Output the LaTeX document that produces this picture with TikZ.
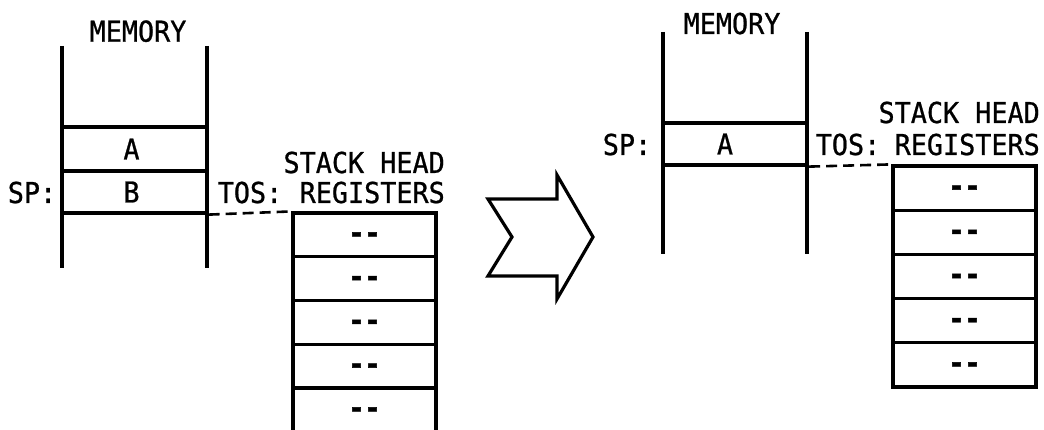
\documentclass[tikz,border=0pt]{standalone}
\usepackage{fontspec}
\newfontfamily\lgfont[FakeStretch=0.93,FakeBold=0.8]{DejaVu Sans Mono}
\newfontfamily\lgbold[FakeStretch=0.93,FakeBold=1.5]{DejaVu Sans Mono Bold}
\begin{document}
\begin{tikzpicture}[x=1pt,y=-1pt,
  txt/.style={font=\lgfont\fontsize{28.8}{30}\selectfont},
  lbl/.style={txt, inner sep=0pt, anchor=base},
  lble/.style={txt, inner sep=0pt, anchor=base east},
  memline/.style={line width=3.4pt},
  memcell/.style={txt, draw, line width=3.2pt, minimum width=145pt, inner sep=0pt},
  regcell/.style={font=\lgbold\fontsize{28.8}{30}\selectfont, draw, line width=3.2pt,
                  minimum width=143pt, inner sep=0pt,
                  text height=15.6pt, text depth=0pt},
  dashline/.style={line width=2.6pt, dash pattern=on 11pt off 6pt},
  bigarrow/.style={line width=3.2pt, line join=miter}]
\useasboundingbox (0,0) rectangle (1044,430);

% ---------- left: before ----------
\draw[memline] (62,46) -- (62,268);
\draw[memline] (207,46) -- (207,268);
\node[memcell, minimum height=44pt] (LA) at (134.5,149) {A\hspace*{6pt}};
\node[memcell, minimum height=42pt] (LB) at (134.5,192) {B\hspace*{6pt}};
\node[lbl] (Lmem) at (138,41.7) {MEMORY};
\node[lbl] (Lsp) at (32,203) {SP:};
\node[lbl] (Ltos) at (250,203) {TOS:};
\node[lble] (Lsh) at (445,173) {STACK HEAD};
\node[lble] (Lreg) at (445,203) {REGISTERS};
\foreach \i/\y in {1/234.9,2/278.6,3/322.4,4/366.1,5/409.9}
  \node[regcell, minimum height=43.75pt] (LR\i) at (364.5,\y) {-{}-};
\draw[dashline] (LB.south east) -- (LR1.north west);

% ---------- transition arrow ----------
\draw[bigarrow] (488,199) -- (557,199) -- (557,175) -- (593,237) -- (557,299)
  -- (557,276) -- (488,276) -- (512,237) -- cycle;

% ---------- right: after ----------
\draw[memline] (663,32) -- (663,254);
\draw[memline] (807,32) -- (807,254);
\node[memcell, minimum height=42pt] (RA) at (735,144) {A\hspace*{20pt}};
\node[lbl] (Rmem) at (732,34) {MEMORY};
\node[lbl] (Rsp) at (627,155) {SP:};
\node[lbl] (Rtos) at (848,155) {TOS:};
\node[lble] (Rsh) at (1040,123) {STACK HEAD};
\node[lble] (Rreg) at (1040,155) {REGISTERS};
\foreach \i/\y in {1/188.1,2/232.3,3/276.5,4/320.7,5/364.9}
  \node[regcell, minimum height=44.2pt] (RR\i) at (964.5,\y) {-{}-};
\draw[dashline] (RA.south east) -- (RR1.north west);
\end{tikzpicture}
\end{document}
